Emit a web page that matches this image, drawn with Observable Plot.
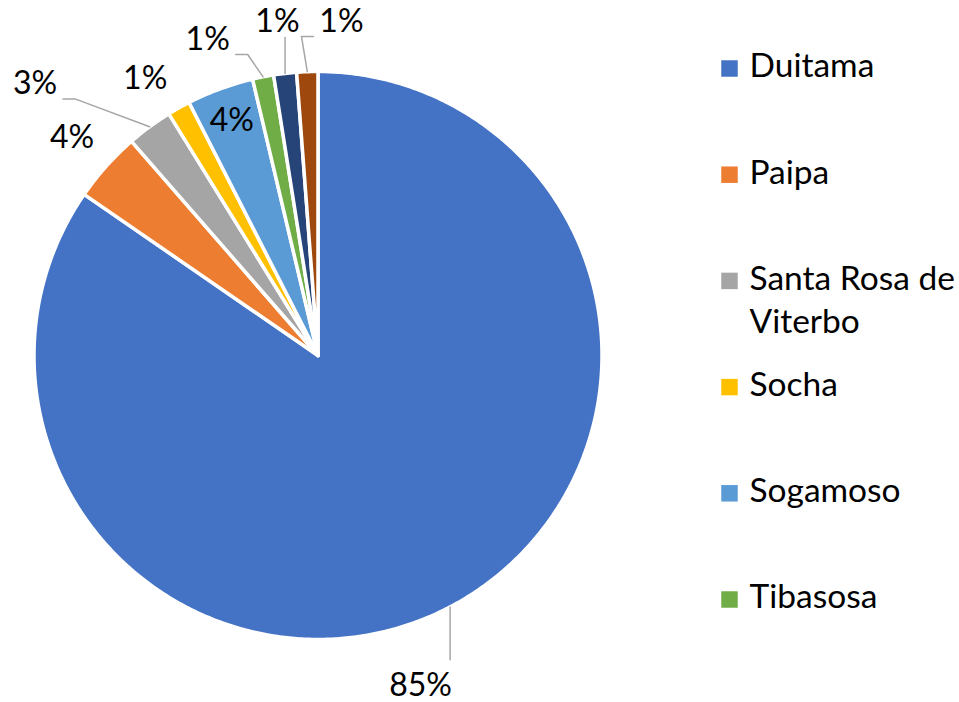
<!DOCTYPE html>
<html><head><meta charset="utf-8">
<script src="https://cdn.jsdelivr.net/npm/d3@7"></script>
<script src="https://cdn.jsdelivr.net/npm/@observablehq/plot@0.6"></script>
<style>html,body{margin:0;padding:0;background:#fff;overflow:hidden}</style>
</head><body><div id="chart"></div>
<script>
// ---- data ----
const municipios = ["Duitama", "Paipa", "Santa Rosa de Viterbo", "Socha", "Sogamoso", "Tibasosa", "Otro municipio 1", "Otro municipio 2"];
const porcentajes = [84.6, 4.0, 2.6, 1.3, 3.8, 1.2, 1.3, 1.2];
const colores = ["#4472C4", "#ED7D31", "#A5A5A5", "#FFC000", "#5B9BD5", "#70AD47", "#264478", "#9E480E"];
const legendCount = 6; // legend shows only the first six entries, as in the reference

// ---- layout ----
const W = 959, H = 702, CX = 317.5, CY = 355, R = 284;
const FONT = "Lato", FS = 32, LFS = 33.5;
const labelRadius = [1.17, 1.17, 1.17, 1.17, 0.88, 1.17, 1.17, 1.17];
const labelNudge = [[-52, 36], [2, 4], [-86, -4], [-10, 13], [0, 0], [-46, 10], [-2, -4], [36, -2]];
const leaderType = ["v", null, "h", null, null, "h", "v", "h"];

const arcs = d3.pie().sort(null).value(d => d)(porcentajes);
const polar = (r, a) => [r * Math.sin(a), -r * Math.cos(a)];

const slicePts = [];
arcs.forEach((p, i) => {
  slicePts.push({name: municipios[i], x: 0, y: 0});
  const n = Math.max(2, Math.ceil((p.endAngle - p.startAngle) / (Math.PI / 360)));
  for (let k = 0; k <= n; k++) {
    const a = p.startAngle + (p.endAngle - p.startAngle) * k / n;
    const [x, y] = polar(R, a);
    slicePts.push({name: municipios[i], x, y});
  }
});

const labels = arcs.map((p, i) => {
  const mid = (p.startAngle + p.endAngle) / 2;
  const [bx, by] = polar(R * labelRadius[i], mid);
  return {name: municipios[i], text: Math.round(p.value) + "%", x: bx + labelNudge[i][0], y: by + labelNudge[i][1], mid};
});

const leaders = [];
labels.forEach((l, i) => {
  const t = leaderType[i];
  if (!t) return;
  const [ax, ay] = polar(R, l.mid);
  if (t === "v") {
    const ey = ay > l.y ? l.y + 16 : l.y - 26;
    leaders.push({id: i, x: ax, y: ay}, {id: i, x: ax, y: ey});
  } else {
    const side = ax > l.x ? 1 : -1;
    const ex = l.x + side * 28, ey = l.y + 15;
    leaders.push({id: i, x: ax, y: ay}, {id: i, x: ex + side * 12, y: ey}, {id: i, x: ex, y: ey});
  }
});

const legend = municipios.slice(0, legendCount).map((m, i) => ({name: m, i}));
const LX = 729 - CX, LY0 = 68 - CY, LDY = 106.2;

const chart = Plot.plot({
  width: W, height: H, margin: 0,
  style: {background: "#fff", fontFamily: FONT},
  x: {domain: [-CX, W - CX], range: [0, W], axis: null},
  y: {domain: [-CY, H - CY], range: [0, H], axis: null},
  color: {domain: municipios, range: colores},
  marks: [
    Plot.line(slicePts, {x: "x", y: "y", z: "name", fill: "name", stroke: "#fff", strokeWidth: 3.5, curve: "linear-closed", strokeLinejoin: "round"}),
    Plot.line(leaders, {x: "x", y: "y", z: "id", stroke: "#A6A6A6", strokeWidth: 1.5}),
    Plot.text(labels, {x: "x", y: "y", text: "text", fontSize: FS, fill: "#000", fontFamily: FONT}),
    Plot.dot(legend, {x: () => LX, y: d => LY0 + d.i * LDY, symbol: "square", r: 9.3, fill: "name", stroke: null}),
    Plot.text(legend, {x: () => LX + 20, y: d => LY0 + d.i * LDY - 10 - 0.36 * LFS, text: "name", textAnchor: "start", lineAnchor: "top", lineWidth: 8, lineHeight: 1.3, fontSize: LFS, fill: "#000", fontFamily: FONT})
  ]
});
document.getElementById("chart").appendChild(chart);
</script>
</body></html>
